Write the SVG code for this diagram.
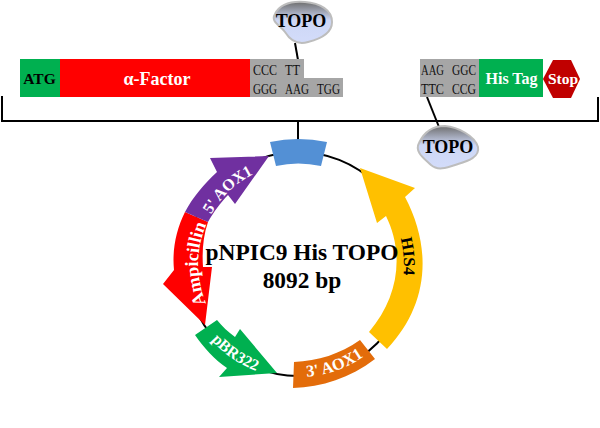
<svg xmlns="http://www.w3.org/2000/svg" width="600" height="428" viewBox="0 0 600 428">
<style>
text{font-family:"Liberation Serif","Times New Roman",serif}
.w{fill:#fff;font-weight:bold}
.k{fill:#000;font-weight:bold}
.seq{font-size:15px;fill:#111}
.blob{fill:url(#g);stroke:#bdbdbd;stroke-width:2}
.lab{text-anchor:middle}
.line{fill:none;stroke:#000;stroke-width:2}
</style>
<defs>
<linearGradient id="g" x1="0" y1="0" x2="0" y2="1"><stop offset="0" stop-color="#6e6e6e"/><stop offset=".45" stop-color="#cdd7f5"/><stop offset="1" stop-color="#d3dcfa"/></linearGradient>
<path id="pHis" d="M379 196A106 106 0 0 1 388 320"/>
<path id="pAox3" d="M278 375A113 113 0 0 0 385 337"/>
<path id="pPbr" d="M198 321.5A115 115 0 0 0 278 377"/>
<path id="pAmp" d="M216 321A100 100 0 0 1 216 207"/>
<path id="pAox5" d="M204 230A100 100 0 0 1 269 168"/>
</defs>
<g id="connectors">
<path class="line" d="M2 96V121H598V97"/>
<path class="line" d="M298 121V143"/>
<path class="line" d="M295 43L298 60"/>
<path class="line" d="M427 97L439 127"/>
<circle class="line" cx="298" cy="264" r="112"/>
</g>
<g id="atg"><rect x="20" y="59" width="40" height="38" fill="#00b050"/><text class="k" x="39.500" y="84" font-size="15.500" text-anchor="middle">ATG</text></g>
<g id="alpha"><rect x="60" y="59" width="190" height="38" fill="#f00"/><text class="w" x="157" y="85" font-size="18" text-anchor="middle">α-Factor</text></g>
<g id="seq1"><path d="M250 59H304V78H343V97H250Z" fill="#a6a6a6"/>
<text class="seq" x="253" y="75" textLength="24" lengthAdjust="spacingAndGlyphs">CCC</text><text class="seq" x="285" y="75" textLength="15" lengthAdjust="spacingAndGlyphs">TT</text>
<text class="seq" x="253" y="94" textLength="24" lengthAdjust="spacingAndGlyphs">GGG</text><text class="seq" x="285" y="94" textLength="24" lengthAdjust="spacingAndGlyphs">AAG</text><text class="seq" x="317" y="94" textLength="23" lengthAdjust="spacingAndGlyphs">TGG</text></g>
<g id="seq2"><rect x="420" y="59" width="59" height="38" fill="#a6a6a6"/>
<text class="seq" x="421" y="75" textLength="23" lengthAdjust="spacingAndGlyphs">AAG</text><text class="seq" x="452" y="75" textLength="24" lengthAdjust="spacingAndGlyphs">GGC</text>
<text class="seq" x="421" y="94" textLength="23" lengthAdjust="spacingAndGlyphs">TTC</text><text class="seq" x="452" y="94" textLength="24" lengthAdjust="spacingAndGlyphs">CCG</text></g>
<g id="histag"><rect x="479" y="59" width="64" height="38" fill="#00b050"/><text class="w" x="511.500" y="84" font-size="16" text-anchor="middle">His Tag</text></g>
<g id="stop"><path d="M543 79L553 60H571L580 79L571 98H553Z" fill="#c00000"/><text class="w" x="563" y="84" font-size="15.500" text-anchor="middle">Stop</text></g>
<g id="topo1"><path class="blob" d="M275 14C280 4 292 1 305 2C320 3 332 10 332 22C332 34 320 39 308 42C298 45 290 40 285 32C281 26 270 22 275 14Z"/><text class="k" x="301" y="27" font-size="18" text-anchor="middle">TOPO</text></g>
<g id="topo2"><path class="blob" d="M419 143C424 132 432 126 445 126C458 127 475 136 478 147C480 157 468 161 458 164C446 168 438 171 431 165C425 159 414 152 419 143Z"/><text class="k" x="448" y="153" font-size="18" text-anchor="middle">TOPO</text></g>
<g id="ori"><path d="M270 142Q298 136 327 142L321 166Q298 161 276 166Z" fill="#5390d5"/></g>
<g id="his4"><path d="M360 168L415 188L405 197C433 250 428 306 387 349L369 332C398 298 405 255 386 216L377 223Z" fill="#ffc000"/>
<text class="k lab" font-size="16.500"><textPath href="#pHis" startOffset="50%">HIS4</textPath></text></g>
<g id="aox3"><path d="M360 340L375 359C350 378 322 387 293 388L294 362C318 361 340 354 360 340Z" fill="#e36c0a"/>
<text class="w lab" font-size="16.500"><textPath href="#pAox3" startOffset="50%">3' AOX1</textPath></text></g>
<g id="pbr322"><path d="M195 335L217 320C222 326 228 332 235 337L240 329L277 373L219 377L227 368C215 360 203 347 195 335Z" fill="#00b050"/>
<text class="w lab" font-size="16"><textPath href="#pPbr" startOffset="50%">pBR322</textPath></text></g>
<g id="ampicillin"><path d="M205 325L163 284L174 270C172 250 176 230 185 212L208 222C203 236 202 252 203 267L212 267Z" fill="#f00"/>
<text class="w lab" font-size="18"><textPath href="#pAmp" startOffset="50%">Ampicillin</textPath></text></g>
<g id="aox5"><path d="M269 156L235 204L228 195C221 202 213 213 208 222L185 212C193 197 204 184 217 172L210 158Z" fill="#7030a0"/>
<text class="w lab" font-size="16"><textPath href="#pAox5" startOffset="50%">5' AOX1</textPath></text></g>
<g id="title"><text class="k" x="302" y="260" font-size="23.400" text-anchor="middle">pNPIC9 His TOPO</text><text class="k" x="302" y="288" font-size="23.400" text-anchor="middle">8092 bp</text></g>
</svg>
